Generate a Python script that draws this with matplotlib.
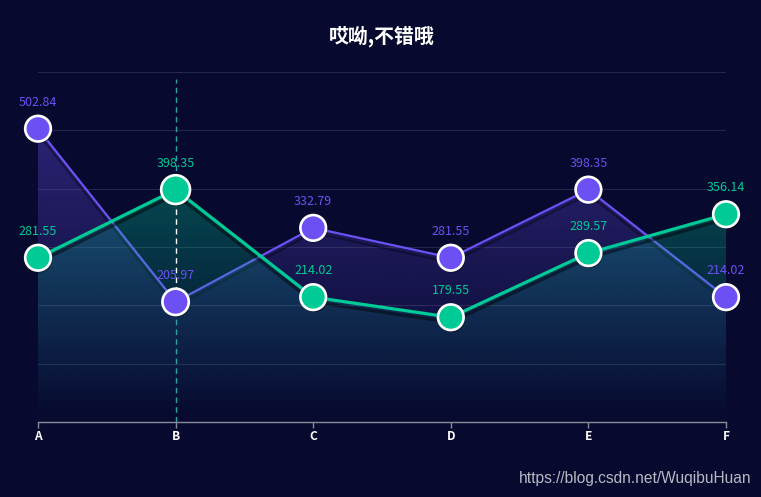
import numpy as np
import matplotlib
matplotlib.use("Agg")
import matplotlib.pyplot as plt
import matplotlib.patheffects as pe
from matplotlib.colors import to_rgb

plt.rcParams['font.family'] = ['Noto Sans CJK SC', 'DejaVu Sans']

categories = ['A', 'B', 'C', 'D', 'E', 'F']
purple_values = [502.84, 205.97, 332.79, 281.55, 398.35, 214.02]
green_values = [281.55, 398.35, 214.02, 179.55, 289.57, 356.14]
title = '哎呦,不错哦'
watermark = 'https://blog.csdn.net/WuqibuHuan'
highlight_index = 1

BG = '#070a2e'
PURPLE = '#6c50f3'
GREEN = '#00ca95'

W, H = 761, 497
fig = plt.figure(figsize=(W / 100, H / 100), dpi=100, facecolor=BG)
ax = fig.add_axes([38 / W, (H - 422) / H, (726 - 38) / W, (422 - 72) / H])
ax.set_facecolor(BG)

x = np.arange(len(categories))


def grad_fill(xv, yv, color, alpha_top, zorder):
    poly = ax.fill_between(xv, yv, 0, facecolor='none', edgecolor='none')
    path = poly.get_paths()[0]
    ymax = max(yv)
    n = 256
    g = np.linspace(0, 1, n)[:, None]
    rgba = np.zeros((n, 1, 4))
    rgba[..., :3] = to_rgb(color)
    rgba[..., 3] = alpha_top * g ** 1.1
    im = ax.imshow(rgba, extent=[xv[0], xv[-1], 0, ymax], origin='lower',
                   aspect='auto', zorder=zorder, interpolation='bilinear')
    im.set_clip_path(path, transform=ax.transData)


# grid lines
for v in range(100, 700, 100):
    ax.axhline(v, color='#ffffff', alpha=0.12, lw=0.8, zorder=1)

# purple series
grad_fill(x, purple_values, PURPLE, 0.36, 2)
ax.plot(x, purple_values, color=PURPLE, lw=1.6, zorder=3, solid_joinstyle='round',
        path_effects=[pe.SimpleLineShadow(offset=(0, -3.5), shadow_color='black', alpha=0.35),
                      pe.Normal()])

# green series
grad_fill(x, green_values, GREEN, 0.32, 4)
ax.plot(x, green_values, color=GREEN, lw=2.3, zorder=5, solid_joinstyle='round',
        path_effects=[pe.SimpleLineShadow(offset=(0, -3.5), shadow_color='black', alpha=0.45),
                      pe.Normal()])

# axis pointer
hx = x[highlight_index]
top_v = max(green_values[highlight_index], purple_values[highlight_index])
bot_v = min(green_values[highlight_index], purple_values[highlight_index])
ax.plot([hx, hx], [0, bot_v], color='#2aa3ad', lw=1, ls=(0, (4, 3)), zorder=6)
ax.plot([hx, hx], [top_v, 588], color='#2aa3ad', lw=1, ls=(0, (4, 3)), zorder=6)
ax.plot([hx, hx], [bot_v, top_v], color='white', lw=1, ls=(0, (4, 3)), zorder=6)

# markers
shadow = [pe.SimplePatchShadow(offset=(1, -1.5), shadow_rgbFace='black', alpha=0.4), pe.Normal()]
sizes_p = [340] * len(x)
sizes_g = [340] * len(x)
sizes_g[highlight_index] = 430
sizes_p[highlight_index] = 360
ax.scatter(x, purple_values, s=sizes_p, color=PURPLE, edgecolor='white', linewidth=1.9,
           zorder=8, path_effects=shadow, clip_on=False)
ax.scatter(x, green_values, s=sizes_g, color=GREEN, edgecolor='white', linewidth=1.9,
           zorder=8, path_effects=shadow, clip_on=False)

# labels
for xi, v in zip(x, purple_values):
    ax.annotate(f'{v:.2f}', (xi, v), xytext=(0, 19), textcoords='offset points',
                ha='center', va='center', color=PURPLE, fontsize=9, zorder=9)
for xi, v in zip(x, green_values):
    ax.annotate(f'{v:.2f}', (xi, v), xytext=(0, 19), textcoords='offset points',
                ha='center', va='center', color=GREEN, fontsize=9, zorder=9)

ax.set_xlim(x[0], x[-1])
ax.set_ylim(0, 600)
ax.set_xticks(x)
ax.set_xticklabels(categories)
ax.set_yticks([])
for s in ['top', 'right', 'left']:
    ax.spines[s].set_visible(False)
ax.spines['bottom'].set_color('#8a8a9a')
ax.spines['bottom'].set_linewidth(1)
ax.tick_params(axis='x', colors='#8a8a9a', length=4, width=1, pad=2)
for lbl in ax.get_xticklabels():
    lbl.set_color('white')
    lbl.set_fontsize(8.6)
    lbl.set_fontweight('bold')
ax.spines['bottom'].set_zorder(10)

fig.text(382 / W, 1 - 36 / H, title, color='white', fontsize=14.3, fontweight='bold',
         ha='center', va='center')
fig.text(752 / W, 1 - 479 / H, watermark, color='#b8b8c4', fontsize=11.2,
         family=['Liberation Sans', 'DejaVu Sans'], ha='right', va='center')

fig.savefig('out.png', dpi=100, facecolor=BG)
